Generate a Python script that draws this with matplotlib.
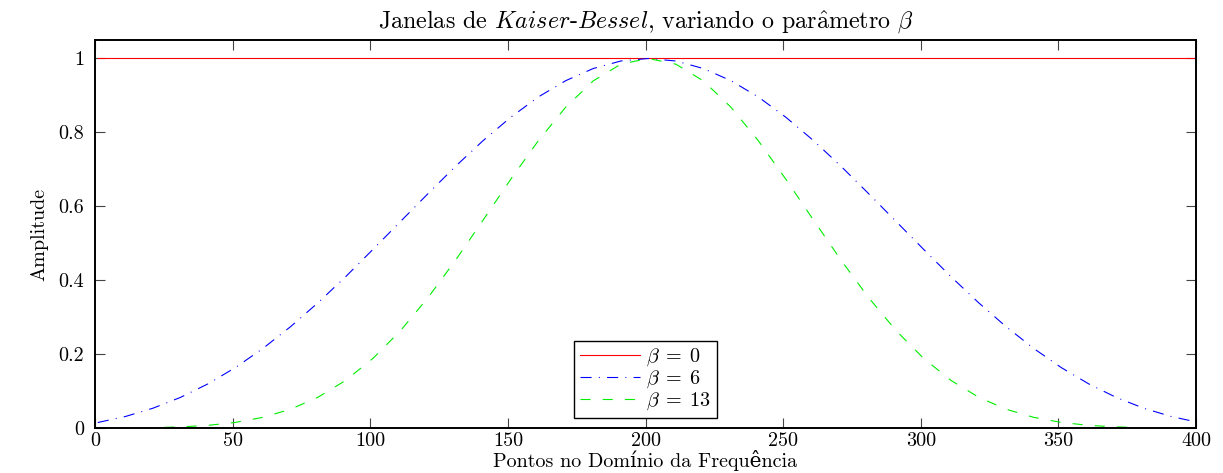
import matplotlib
matplotlib.use('Agg')
import matplotlib.pyplot as plt

# pontos (passo de 10 amostras)
x = [1, 11, 21, 31, 41, 51, 61, 71, 81, 91, 101, 111, 121, 131, 141, 151, 161, 171, 181, 191,
     201, 211, 221, 231, 241, 251, 261, 271, 281, 291, 301, 311, 321, 331, 341, 351, 361, 371, 381, 391, 401]

# metade esquerda (borda -> centro), espelhada para a direita
half_b6 = [0.0149, 0.0311, 0.0535, 0.0827, 0.1194, 0.1636, 0.2154, 0.2741, 0.3390, 0.4092,
           0.4836, 0.5591, 0.6345, 0.7084, 0.7779, 0.8408, 0.8957, 0.9400, 0.9729, 0.9932]
half_b13 = [0.00002, 0.00024, 0.0010, 0.0030, 0.0072, 0.0152, 0.0289, 0.0508, 0.0833, 0.1286,
            0.1886, 0.2637, 0.3532, 0.4544, 0.5629, 0.6729, 0.7771, 0.8683, 0.9394, 0.9846]

w_b0 = [1.0] * len(x)
w_b6 = half_b6 + [1.0] + half_b6[::-1]
w_b13 = half_b13 + [1.0] + half_b13[::-1]

xticks = [0, 50, 100, 150, 200, 250, 300, 350, 400]
yticks = [0, 0.2, 0.4, 0.6, 0.8, 1]
ytick_labels = ['0', '0.2', '0.4', '0.6', '0.8', '1']

plt.rcParams['font.family'] = ['cmr10', 'DejaVu Serif']
plt.rcParams['mathtext.fontset'] = 'cm'
plt.rcParams['axes.unicode_minus'] = False

fig = plt.figure(figsize=(12.23, 4.73), dpi=100)
ax = fig.add_axes([0.0777, 0.0951, 0.9003, 0.8203])

ax.plot(x, w_b0, color='#ff0000', linestyle='-', lw=0.8, label=r'$\beta\;=\;0$')
ax.plot(x, w_b6, color='#0000ff', linestyle=(0, (10, 6.5, 0.9, 6.5)), lw=0.8, label=r'$\beta\;=\;6$')
ax.plot(x, w_b13, color='#00ee00', linestyle=(0, (9, 11)), lw=0.8, label=r'$\beta\;=\;13$')

ax.set_xlim(0, 400)
ax.set_ylim(0, 1.05)
ax.set_xticks(xticks)
ax.set_xticklabels([str(t) for t in xticks])
ax.set_yticks(yticks)
ax.set_yticklabels(ytick_labels)
ax.tick_params(direction='in', length=7.5, width=0.8, color='#444444', top=True, right=True, labelsize=14.5)
ax.tick_params(axis='x', pad=3)
ax.tick_params(axis='y', pad=8)
for s in ax.spines.values():
    s.set_linewidth(1.4)

ax.set_title(r'Janelas de $\mathit{Kaiser}$-$\mathit{Bessel}$, variando o par$\hat{\mathrm{a}}$metro $\beta$',
             fontsize=17.3, pad=9)
ax.set_xlabel('Pontos no Domínio da Frequência', fontsize=14.5, labelpad=0)
ax.set_ylabel('Amplitude', fontsize=14.5, labelpad=7)

leg = ax.legend(loc='lower center', bbox_to_anchor=(0.5, 0.01), fontsize=14.5, frameon=True, fancybox=False,
                edgecolor='black', framealpha=1, handlelength=3.0, handletextpad=0.3,
                borderpad=0.3, labelspacing=0.02, borderaxespad=0.3)
leg.get_frame().set_linewidth(1.0)

fig.savefig('out.png', dpi=100)
